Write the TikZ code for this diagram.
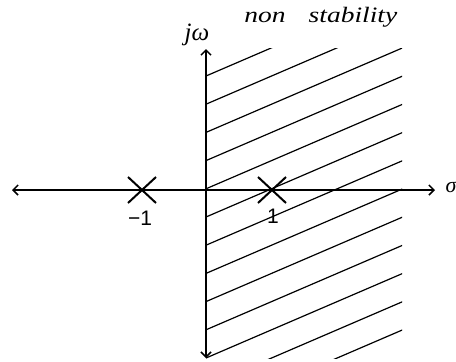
\documentclass[tikz,border=0pt]{standalone}
\usepackage{fontspec}
\setmainfont{Liberation Serif}
\setsansfont{Liberation Sans}
\newfontfamily\seriffam{Liberation Serif}
\usetikzlibrary{arrows.meta,shapes.misc}
\begin{document}
\begin{tikzpicture}[x=1pt,y=-1pt,
  axis/.style={line width=1.5pt, {Straight Barb[length=5pt,width=10pt]}-{Straight Barb[length=5pt,width=10pt]}},
  hatch/.style={line width=1.2pt},
  pole/.style={draw, cross out, minimum width=26pt, minimum height=24pt, inner sep=0pt, line width=2pt},
  lbl/.style={inner sep=0pt, anchor=base, font=\sffamily\fontsize{21}{21}\selectfont},
  itl/.style={inner sep=0pt, anchor=base, font=\seriffam\itshape\fontsize{22}{22}\selectfont}]
\useasboundingbox (0,0) rectangle (456,362);
\coordinate (L) at (12,190);
\coordinate (R) at (435,190);
\coordinate (T) at (206,49);
\coordinate (B) at (206,358);
\begin{scope}
\clip (206,48) rectangle (402,358);
\foreach \i in {0,...,12} \draw[hatch] (206,76+28.2*\i) -- ++(300,-129);
\end{scope}
\draw[axis] (L) -- (R);
\draw[axis] (B) -- (T);
\node[pole] (p1) at (142,190) {};
\node[pole] (p2) at (272,190) {};
\node[lbl] (m1) at (140,225) {−1};
\node[lbl] (one) at (273,223) {1};
\node[itl, font=\seriffam\itshape\fontsize{25}{25}\selectfont] (jw) at (197,40) {jω};
\node[itl] (non) at (265,22) {\scalebox{1.25}[1]{non}};
\node[itl] (stab) at (353,22) {\scalebox{1.25}[1]{stability}};
\node[itl] (sig) at (451,192) {σ};
\end{tikzpicture}
\end{document}
